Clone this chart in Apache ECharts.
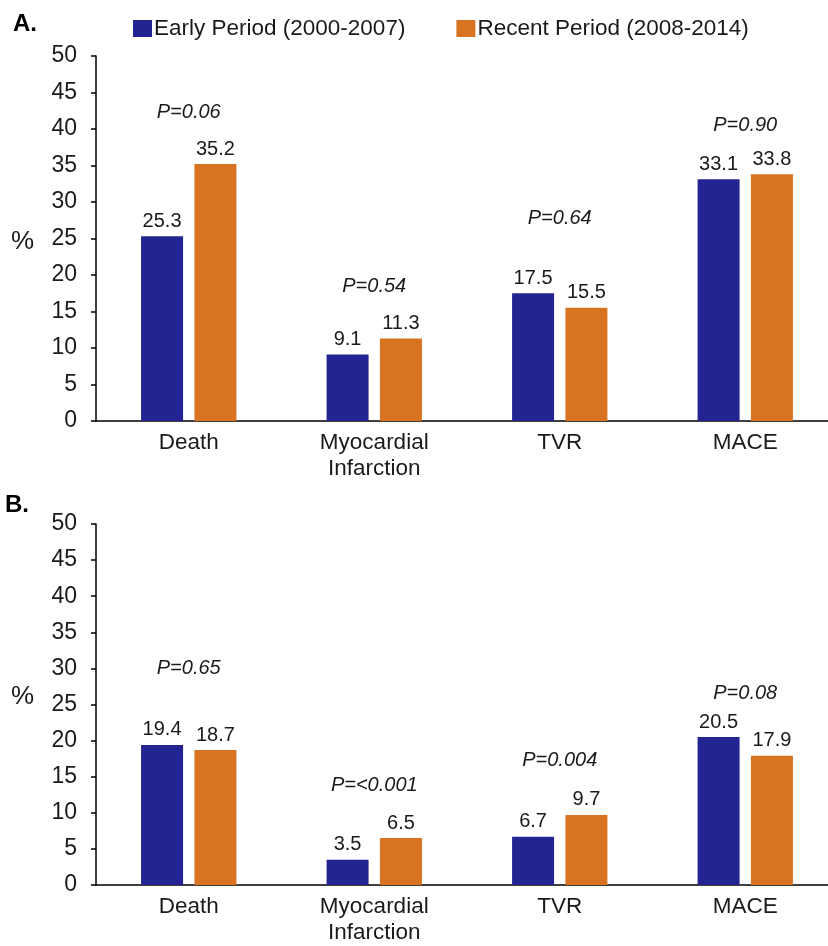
<!DOCTYPE html>
<html>
<head>
<meta charset="utf-8">
<script src="https://cdn.jsdelivr.net/npm/echarts@6/dist/echarts.min.js"></script>
<style>
html,body{margin:0;padding:0;background:#fff;overflow:hidden;width:828px;height:946px;}
#chart{width:842px;height:946px;}
</style>
</head>
<body>
<div id="chart"></div>
<script>
// ---- data ----
const categories = ['Death', 'Myocardial\nInfarction', 'TVR', 'MACE'];
const seriesNames = ['Early Period (2000-2007)', 'Recent Period (2008-2014)'];
const yTicks = [0, 5, 10, 15, 20, 25, 30, 35, 40, 45, 50];

const earlyA = [25.3, 9.1, 17.5, 33.1];
const recentA = [35.2, 11.3, 15.5, 33.8];
const pTextA = ['P=0.06', 'P=0.54', 'P=0.64', 'P=0.90'];
const pAnchorA = [42.3, 18.4, 27.7, 40.5];

const earlyB = [19.4, 3.5, 6.7, 20.5];
const recentB = [18.7, 6.5, 9.7, 17.9];
const pTextB = ['P=0.65', 'P=<0.001', 'P=0.004', 'P=0.08'];
const pAnchorB = [30.0, 13.8, 17.2, 26.6];

// ---- styles ----
const BLUE = '#232491';
const ORANGE = '#D87322';
const TXT = '#1a1a1a';
const FONT = 'Liberation Sans, Arial, sans-serif';

const chart = echarts.init(document.getElementById('chart'));

function grid(top) {
  return { left: 96, top: top, width: 742, height: 365, containLabel: false };
}
function xAxis(gi) {
  return {
    type: 'category', gridIndex: gi, data: categories,
    axisLine: { lineStyle: { color: '#000', width: 1.5 } },
    axisTick: { show: false },
    axisLabel: { color: TXT, fontSize: 22.5, fontFamily: FONT, margin: 9, lineHeight: 26 }
  };
}
function yAxis(gi) {
  return {
    type: 'value', gridIndex: gi, min: yTicks[0], max: yTicks[yTicks.length - 1], interval: 5,
    axisLine: { show: true, lineStyle: { color: '#000', width: 1.5 } },
    axisTick: { show: true, length: 5, lineStyle: { color: '#000', width: 1.5 } },
    splitLine: { show: false },
    axisLabel: { color: TXT, fontSize: 23, fontFamily: FONT, margin: 19 }
  };
}
function bar(name, data, color, gi) {
  return {
    name: name, type: 'bar', xAxisIndex: gi, yAxisIndex: gi, data: data,
    barWidth: 42, barGap: '27%',
    itemStyle: { color: color },
    label: { show: true, position: 'top', distance: 5, color: TXT, fontSize: 20, fontFamily: FONT,
             formatter: p => p.value.toFixed(1) }
  };
}
function pSeries(anchors, texts, gi) {
  return {
    type: 'scatter', xAxisIndex: gi, yAxisIndex: gi, symbolSize: 0, silent: true,
    data: anchors.map((v, i) => [i, v]),
    itemStyle: { opacity: 1 },
    label: { show: true, position: 'inside', color: TXT, fontSize: 20, fontStyle: 'italic', fontFamily: FONT,
             formatter: p => texts[p.dataIndex] },
    z: 5
  };
}

chart.setOption({
  animation: false,
  backgroundColor: '#fff',
  legend: {
    data: seriesNames, left: 133, top: 17, padding: 0, itemWidth: 19, itemHeight: 17, itemGap: 51,
    icon: 'rect',
    textStyle: { color: TXT, fontSize: 22.5, fontFamily: FONT, padding: [0, 0, 0, -3] }
  },
  grid: [grid(56), grid(524)],
  xAxis: [xAxis(0), xAxis(1)],
  yAxis: [yAxis(0), yAxis(1)],
  series: [
    bar(seriesNames[0], earlyA, BLUE, 0),
    bar(seriesNames[1], recentA, ORANGE, 0),
    pSeries(pAnchorA, pTextA, 0),
    bar(seriesNames[0], earlyB, BLUE, 1),
    bar(seriesNames[1], recentB, ORANGE, 1),
    pSeries(pAnchorB, pTextB, 1)
  ],
  graphic: [
    { type: 'text', left: 13, top: 12, style: { text: 'A.', fontSize: 24, fontWeight: 'bold', fontFamily: FONT, fill: '#000' } },
    { type: 'text', left: 5, top: 493, style: { text: 'B.', fontSize: 24, fontWeight: 'bold', fontFamily: FONT, fill: '#000' } },
    { type: 'text', left: 11, top: 229, style: { text: '%', fontSize: 26, fontFamily: FONT, fill: TXT } },
    { type: 'text', left: 11, top: 684, style: { text: '%', fontSize: 26, fontFamily: FONT, fill: TXT } }
  ]
});
</script>
</body>
</html>
